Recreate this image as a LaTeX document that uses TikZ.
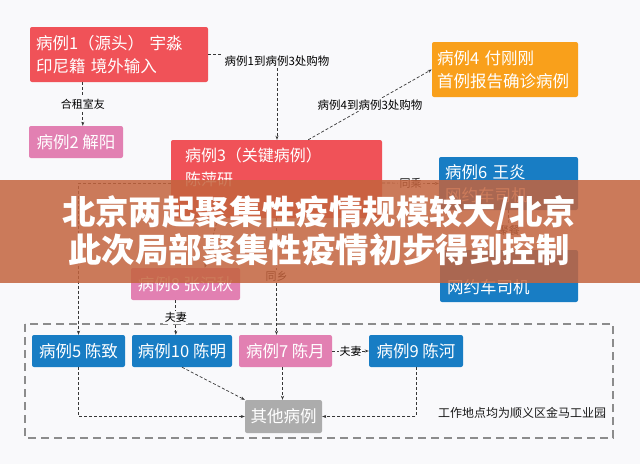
\documentclass[tikz,border=0pt]{standalone}
\usepackage{fontspec}
\setmainfont{Noto Sans CJK SC}
\usetikzlibrary{arrows.meta}

\definecolor{casered}{RGB}{240,82,88}
\definecolor{casepink}{RGB}{226,128,178}
\definecolor{caseorange}{RGB}{249,160,27}
\definecolor{caseblue}{RGB}{24,125,196}
\definecolor{casegray}{RGB}{172,172,172}
\definecolor{bgwhite}{RGB}{249,249,251}
\definecolor{bannerbg}{RGB}{196,100,62}
\definecolor{linkgray}{RGB}{55,55,55}

\tikzset{
          casebox/.style = {fill = #1, rounded corners = 2pt, text = white, font = \fontsize{16.5}{23}\selectfont, inner sep = 0pt, align = left, anchor = center},
          link/.style = {draw = linkgray, line width = 0.7pt, densely dashed},
          tip/.style = {-{Stealth[length=4pt,width=3pt]}},
          tag/.style = {fill = bgwhite, inner sep = 1.5pt, font = \fontsize{11.5}{13}\selectfont, text = black},
          title/.style = {text = white, font = \fontsize{33.4}{38}\bfseries, align = center}
        }

\begin{document}
\begin{tikzpicture}[x=1pt,y=-1pt]
          \fill[bgwhite] (0,0) rectangle (640,464);
          \useasboundingbox (0,0) rectangle (640,464);

          % work site group
          \draw[draw=black!45, line width=1.1pt, dash pattern=on 8pt off 5pt] (25,324) rectangle (613,438);

          \node[casebox=casered, text width=166pt, minimum height=55pt, inner xsep=6pt] (case1) at (119,54.5) {病例1（源头） 宇淼\\印尼籍 境外输入};
          \node[casebox=casepink, minimum width=94pt, minimum height=32pt, align=center] (case2) at (76,142) {病例2 解阳};
          \node[casebox=casered, text width=183pt, minimum height=78pt, inner xsep=14pt, font=\fontsize{16}{24}\selectfont] (case3) at (276.5,179) {病例3（关键病例）\\陈萍研\\~};
          \node[casebox=caseorange, text width=136pt, minimum height=55pt, inner xsep=5pt] (case4) at (505,69.5) {病例4 付刚刚\\首例报告确诊病例};
          \node[casebox=caseblue, text width=127pt, minimum height=53pt, inner xsep=6pt] (case6) at (508.5,183.5) {病例6 王炎\\网约车司机};
          \node[casebox=caseblue, text width=124pt, minimum height=52pt, inner xsep=7pt] (driver) at (509,276) {\phantom{网约车司机}\\网约车司机};
          \node[casebox=casepink, minimum width=109pt, minimum height=32pt, align=center] (case8) at (185.5,284) {病例8 张沉秋};

          \node[casebox=caseblue, minimum width=93pt, minimum height=32pt, align=center] (case5) at (78.5,351) {病例5 陈致};
          \node[casebox=caseblue, minimum width=100pt, minimum height=32pt, align=center] (case10) at (182,351) {病例10 陈明};
          \node[casebox=casepink, minimum width=93pt, minimum height=32pt, align=center] (case7) at (285.5,351) {病例7 陈月};
          \node[casebox=caseblue, minimum width=94pt, minimum height=32pt, align=center] (case9) at (416,351) {病例9 陈河};
          \node[casebox=casegray, minimum width=77pt, minimum height=33pt, align=center] (others) at (283.5,416.5) {其他病例};

          \node[font=\fontsize{12}{14}\selectfont, text=black!90] (site) at (522,413) {工作地点均为顺义区金马工业园};

          % links
          \draw[link, tip] ([xshift=53pt]case1.south west) -- node[tag, font=\fontsize{11}{13}\selectfont] (roommate) {合租室友} ([xshift=54pt]case2.north west);

          \node[tag] (buy13) at (277,61) {病例1到病例3处购物};
          \draw[link] (case1.east) -- (case1.east -| buy13.west);
          \draw[link, tip] (buy13.south) -- (buy13.south |- case3.north);

          \draw[link, tip] ([xshift=-74pt]case3.north east) -- node[tag] (buy43) {病例4到病例3处购物} (case4.west);

          \draw[link, tip] ([yshift=-4pt]case3.east) -- node[tag, font=\fontsize{11}{13}\selectfont] (ride) {同乘} (case6.west);
          \draw[link, tip] (case6.south) -- node[tag, font=\fontsize{11}{13}\selectfont] (meal) {聚餐} (driver.north);

          \draw[link, tip] ([yshift=-4pt]case3.west) -| (case5.north);
          \draw[link, tip] ([xshift=47pt]case3.south west) -- ([xshift=74pt]case8.north west);
          \draw[link, tip] (case3.south) -- node[tag, font=\fontsize{11}{13}\selectfont, pos=0.5] (town) {同乡} (case3.south |- case7.north);

          \draw[link, tip] ([xshift=45pt]case8.south west) -- node[tag, font=\fontsize{11}{13}\selectfont] (spouse1) {夫妻} ([xshift=45pt]case8.south west |- case10.north);
          \draw[link, tip] (case7.east) -- node[tag, font=\fontsize{11}{13}\selectfont, inner sep=0.5pt] (spouse2) {夫妻} (case9.west);

          \draw[link, tip] (case5.south) |- (others.west);
          \draw[link, tip] (case10.south) -- (others.north west);
          \draw[link, tip] ([xshift=-3pt]case7.south) -- ([xshift=-3pt]case7.south |- others.north);
          \draw[link, tip] (case9.south) |- (others.east);

          % banner
          \fill[bannerbg, opacity=0.85] (0,180) rectangle (640,283);
          \node[title] (headline) at (319,231) {北京两起聚集性疫情规模较大/北京\\此次局部聚集性疫情初步得到控制};
        \end{tikzpicture}
\end{document}
